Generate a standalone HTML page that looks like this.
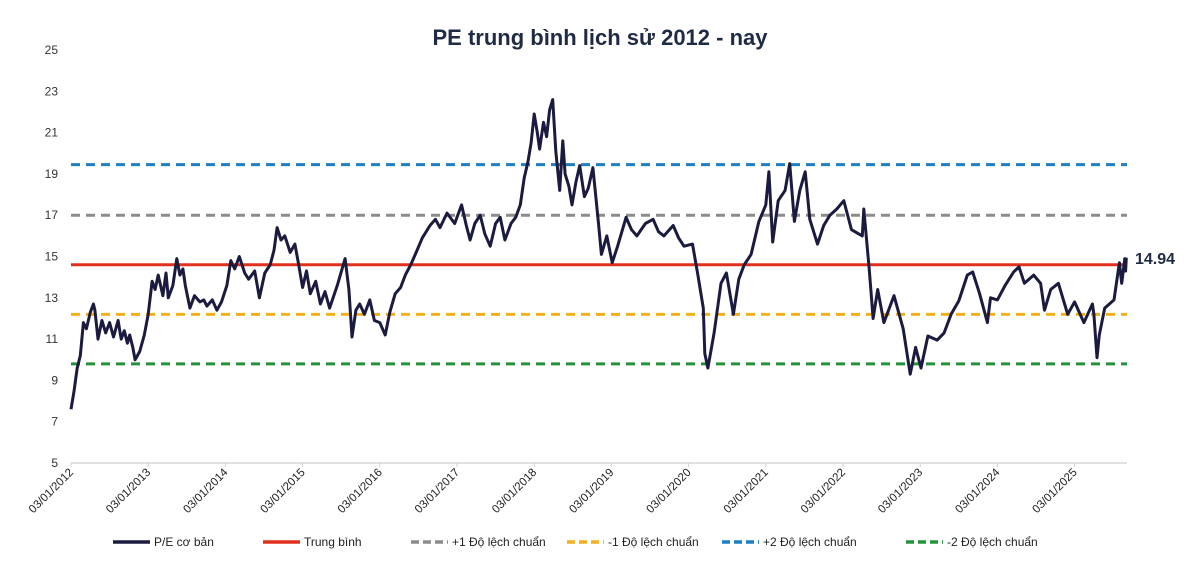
<!DOCTYPE html>
<html><head><meta charset="utf-8">
<style>
html,body{margin:0;padding:0;background:#fff;}
svg{display:block;font-family:"Liberation Sans",sans-serif;}
</style></head>
<body>
<svg id="chart" width="1200" height="562" viewBox="0 0 1200 562">
<text x="600" y="45" text-anchor="middle" font-size="22" font-weight="bold" fill="#1f2a44">PE trung bình lịch sử 2012 - nay</text>
<g id="yaxis"></g>
<g id="xaxis"></g>
<g id="refs"></g>
<g id="series"></g>
<text x="1135" y="264" font-size="16" font-weight="bold" fill="#1f2a44">14.94</text>
<g id="legend"></g>
</svg>
<script>
const yTicks = [5,7,9,11,13,15,17,19,21,23,25];
const xTickYears = [2012,2013,2014,2015,2016,2017,2018,2019,2020,2021,2022,2023,2024,2025];
const xTickLabels = xTickYears.map(y=>'03/01/'+y);
const refNames = ['Trung bình','+1 Độ lệch chuẩn','-1 Độ lệch chuẩn','+2 Độ lệch chuẩn','-2 Độ lệch chuẩn'];
const refValues = [14.6,17.0,12.2,19.45,9.8];
// [decimal year, P/E]
const peSeries = [
[2012.0,7.6],[2012.04,8.5],[2012.08,9.6],[2012.12,10.2],[2012.16,11.8],[2012.2,11.5],[2012.25,12.3],[2012.29,12.7],[2012.31,12.4],[2012.35,11.0],[2012.4,11.9],[2012.45,11.3],[2012.5,11.8],[2012.55,11.1],[2012.61,11.9],[2012.65,11.0],[2012.69,11.4],[2012.73,10.8],[2012.76,11.2],[2012.8,10.6],[2012.83,10.0],[2012.89,10.4],[2012.95,11.2],
[2013.0,12.2],[2013.05,13.8],[2013.09,13.4],[2013.13,14.1],[2013.19,13.1],[2013.23,14.2],[2013.26,13.0],[2013.32,13.6],[2013.37,14.9],[2013.41,14.1],[2013.45,14.4],[2013.48,13.6],[2013.54,12.5],[2013.6,13.1],[2013.67,12.8],[2013.72,12.9],[2013.76,12.6],[2013.83,12.9],[2013.89,12.4],[2013.95,12.8],
[2014.02,13.6],[2014.07,14.8],[2014.12,14.4],[2014.18,15.0],[2014.25,14.2],[2014.3,13.9],[2014.38,14.3],[2014.44,13.0],[2014.51,14.2],[2014.58,14.6],[2014.63,15.3],[2014.67,16.4],[2014.72,15.8],[2014.77,16.0],[2014.84,15.2],[2014.9,15.6],[2014.95,14.6],
[2015.0,13.5],[2015.05,14.3],[2015.1,13.2],[2015.17,13.8],[2015.23,12.7],[2015.29,13.3],[2015.35,12.5],[2015.45,13.6],[2015.55,14.9],[2015.6,13.4],[2015.64,11.1],[2015.69,12.4],[2015.74,12.7],[2015.8,12.2],[2015.87,12.9],[2015.93,11.9],
[2016.0,11.8],[2016.07,11.2],[2016.13,12.3],[2016.2,13.2],[2016.27,13.5],[2016.33,14.1],[2016.4,14.6],[2016.46,15.1],[2016.55,15.9],[2016.65,16.5],[2016.72,16.8],[2016.78,16.4],[2016.87,17.1],[2016.97,16.6],
[2017.06,17.5],[2017.12,16.5],[2017.17,15.8],[2017.23,16.6],[2017.3,17.0],[2017.36,16.1],[2017.43,15.5],[2017.5,16.6],[2017.56,16.9],[2017.62,15.8],[2017.7,16.6],[2017.76,16.9],[2017.82,17.5],[2017.87,18.8],[2017.92,19.6],[2017.96,20.5],
[2018.0,21.9],[2018.04,21.0],[2018.07,20.2],[2018.12,21.5],[2018.16,20.8],[2018.2,22.1],[2018.24,22.6],[2018.28,20.1],[2018.33,18.2],[2018.37,20.6],[2018.4,19.0],[2018.45,18.4],[2018.49,17.5],[2018.54,18.6],[2018.59,19.4],[2018.65,17.9],[2018.7,18.3],[2018.76,19.3],
[2018.83,16.7],[2018.87,15.1],[2018.94,16.0],[2019.01,14.7],[2019.08,15.5],[2019.19,16.9],[2019.26,16.3],[2019.33,16.0],[2019.44,16.6],[2019.54,16.8],[2019.61,16.2],[2019.68,16.0],[2019.8,16.5],[2019.87,15.9],[2019.94,15.5],
[2020.05,15.6],[2020.12,14.1],[2020.19,12.5],[2020.21,10.3],[2020.25,9.6],[2020.33,11.3],[2020.42,13.7],[2020.49,14.2],[2020.58,12.2],[2020.65,13.9],[2020.72,14.6],[2020.81,15.1],[2020.91,16.7],
[2021.0,17.5],[2021.04,19.1],[2021.09,15.7],[2021.16,17.7],[2021.25,18.2],[2021.31,19.5],[2021.37,16.7],[2021.44,18.2],[2021.51,19.1],[2021.57,16.8],[2021.67,15.6],[2021.75,16.5],[2021.83,17.0],[2021.92,17.3],
[2022.01,17.7],[2022.11,16.3],[2022.25,16.0],[2022.27,17.3],[2022.34,14.4],[2022.39,12.0],[2022.45,13.4],[2022.53,11.8],[2022.66,13.1],[2022.78,11.5],[2022.87,9.3],[2022.94,10.6],
[2023.01,9.6],[2023.1,11.15],[2023.22,10.95],[2023.31,11.3],[2023.4,12.2],[2023.5,12.85],[2023.61,14.1],[2023.68,14.25],[2023.77,13.2],[2023.87,11.8],[2023.91,13.0],
[2024.0,12.9],[2024.1,13.6],[2024.21,14.25],[2024.28,14.5],[2024.35,13.7],[2024.47,14.1],[2024.56,13.7],[2024.61,12.4],[2024.69,13.4],[2024.79,13.7],[2024.91,12.2],
[2025.0,12.8],[2025.12,11.8],[2025.23,12.7],[2025.25,12.2],[2025.29,10.1],[2025.32,11.2],[2025.39,12.5],[2025.51,12.9],[2025.58,14.7],[2025.61,13.7],[2025.65,14.9],[2025.66,14.3],[2025.67,14.94]
];

const NS='http://www.w3.org/2000/svg';
const X0=71, PXYR=77.2, Y0=463, PXU=20.65, XEND=1127;
const xs = y => X0 + (y-2012)*PXYR;
const ys = v => Y0 - (v-5)*PXU;
function mk(tag, attrs, parent){const e=document.createElementNS(NS,tag);for(const k in attrs)e.setAttribute(k,attrs[k]);parent.appendChild(e);return e;}

const yax=document.getElementById('yaxis');
yTicks.forEach(t=>{
  const e=mk('text',{x:58,y:ys(t)+4,'text-anchor':'end','font-size':12,fill:'#333'},yax);
  
  
  e.textContent=t;
});
const xax=document.getElementById('xaxis');
const axl=mk('line',{x1:X0,x2:XEND,y1:Y0,y2:Y0,stroke:'#d0d0d0','stroke-width':1.2},xax);


xTickYears.forEach((yr,i)=>{
  const x=xs(yr);
  const tk=mk('line',{x1:x,x2:x,y1:Y0,y2:Y0+4,stroke:'#d0d0d0'},xax);
  
  
  const t=mk('text',{x:x+3,y:Y0+10,'text-anchor':'end','font-size':11.5,fill:'#222',transform:`rotate(-45 ${x+3} ${Y0+10})`},xax);
  
  
  t.textContent=xTickLabels[i];
});

const refColors=['#e0301e','#8c8c8c','#f2b01e','#1f7fc0','#22933a'];
const refDash=[null,'9 6','9 6','9 6','9 6'];
const refs=document.getElementById('refs');
refValues.forEach((v,i)=>{
  const a={x1:X0,x2:XEND,y1:ys(v),y2:ys(v),stroke:refColors[i],'stroke-width':3};
  if(refDash[i])a['stroke-dasharray']=refDash[i];
  const l=mk('line',a,refs);
  
  
});

const ser=document.getElementById('series');
const d=peSeries.map((p,i)=>(i?'L':'M')+xs(p[0]).toFixed(1)+' '+ys(p[1]).toFixed(1)).join(' ');
const p=mk('path',{d:d,fill:'none',stroke:'#1b1b3f','stroke-width':3,'stroke-linejoin':'round'},ser);



const leg=document.getElementById('legend');
const legNames=['P/E cơ bản'].concat(refNames);
const legColors=['#1b1b3f'].concat(refColors);
const legDash=[null].concat(refDash);
const legX=[113,263,411,567,722,906];
legNames.forEach((n,i)=>{
  const g=mk('g',{},leg);
  
  
  const a={x1:legX[i],x2:legX[i]+37,y1:542,y2:542,stroke:legColors[i],'stroke-width':3.5};
  if(legDash[i])a['stroke-dasharray']='8 4';
  mk('line',a,g);
  const t=mk('text',{x:legX[i]+41,y:546,'font-size':12,fill:'#222'},g);
  t.textContent=n;
});
</script>
</body></html>
